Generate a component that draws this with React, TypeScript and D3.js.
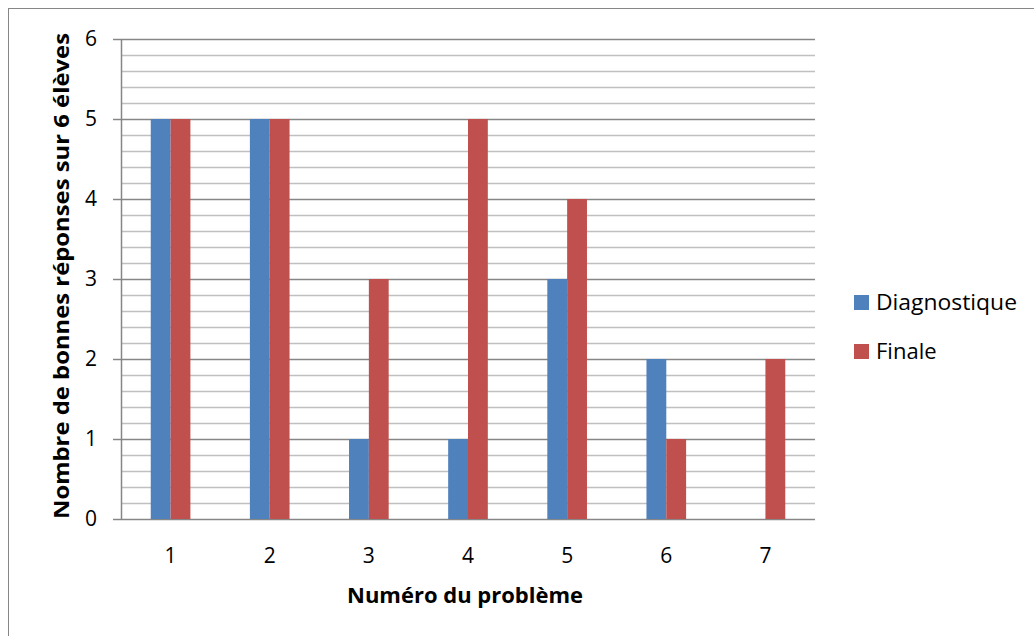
import React from "react";
import * as d3 from "d3";

const categories = ["1", "2", "3", "4", "5", "6", "7"];
const diagnostique = [5, 5, 1, 1, 3, 2, 0];
const finale = [5, 5, 3, 5, 4, 1, 2];
const seriesNames = ["Diagnostique", "Finale"];
const seriesColors = ["#4F81BD", "#C0504D"];
const yTicks = [0, 1, 2, 3, 4, 5, 6];

const W = 1034;
const H = 636;
const FONT = "'Open Sans', Calibri, sans-serif";

export default function App() {
  const left = 121, right = 815, top = 39, bottom = 519;
  const x = d3.scaleBand<string>().domain(categories).range([left, right]).paddingInner(0).paddingOuter(0);
  const y = d3.scaleLinear().domain([0, 6]).range([bottom, top]);
  const bw = x.bandwidth();
  const barW = bw * 0.2;
  const minor = d3.range(0, 6.0001, 0.2).filter((v) => Math.abs(v - Math.round(v)) > 1e-6);
  const series = [diagnostique, finale];

  return (
    <svg width={W} height={H} style={{ position: "absolute", left: 0, top: 0 }}>
      <rect x={0} y={0} width={W} height={H} fill="#fff" />
      <rect x={8.5} y={8.5} width={W + 20} height={H + 20} fill="none" stroke="#868686" strokeWidth={1} />
      {minor.map((v) => (
        <line key={"m" + v} x1={left} x2={right} y1={Math.round(y(v)) + 0.5} y2={Math.round(y(v)) + 0.5} stroke="#C0C0C0" strokeWidth={1.5} />
      ))}
      {yTicks.map((v) => (
        <line key={"M" + v} x1={113} x2={right} y1={Math.round(y(v)) + 0.5} y2={Math.round(y(v)) + 0.5} stroke="#868686" strokeWidth={1.5} />
      ))}
      <line x1={left + 0.5} x2={left + 0.5} y1={top} y2={bottom} stroke="#868686" strokeWidth={1.5} />
      {series.map((vals, si) =>
        vals.map((v, i) => {
          const cx = (x(categories[i]) as number) + bw / 2;
          const x0 = cx - barW + si * barW;
          return v > 0 ? (
            <rect key={si + "-" + i} x={x0} y={y(v)} width={barW} height={y(0) - y(v)} fill={seriesColors[si]} />
          ) : null;
        })
      )}
      {yTicks.map((v) => (
        <text key={"yl" + v} x={97} y={y(v)} dy="0.35em" textAnchor="end" fontFamily={FONT} fontSize={21} fill="#000">
          {v}
        </text>
      ))}
      {categories.map((c) => (
        <text key={"xl" + c} x={(x(c) as number) + bw / 2} y={556} dy="0.35em" textAnchor="middle" fontFamily={FONT} fontSize={21} fill="#000">
          {c}
        </text>
      ))}
      <text x={465} y={596} dy="0.35em" textAnchor="middle" fontFamily={FONT} fontSize={21} fontWeight="bold" fill="#000" textLength={236} lengthAdjust="spacingAndGlyphs">
        Numéro du problème
      </text>
      <text transform={`translate(62,276) rotate(-90)`} dy="0.35em" textAnchor="middle" fontFamily={FONT} fontSize={21} fontWeight="bold" fill="#000" textLength={486} lengthAdjust="spacingAndGlyphs">
        Nombre de bonnes réponses sur 6 élèves
      </text>
      {seriesNames.map((n, i) => (
        <g key={n} transform={`translate(854, ${302.5 + i * 49})`}>
          <rect x={0} y={-7.5} width={15} height={15} fill={seriesColors[i]} />
          <text x={22} y={0} dy="0.35em" fontFamily={FONT} fontSize={22} fill="#000" textLength={n === "Diagnostique" ? 141 : undefined} lengthAdjust="spacingAndGlyphs">
            {n}
          </text>
        </g>
      ))}
    </svg>
  );
}
